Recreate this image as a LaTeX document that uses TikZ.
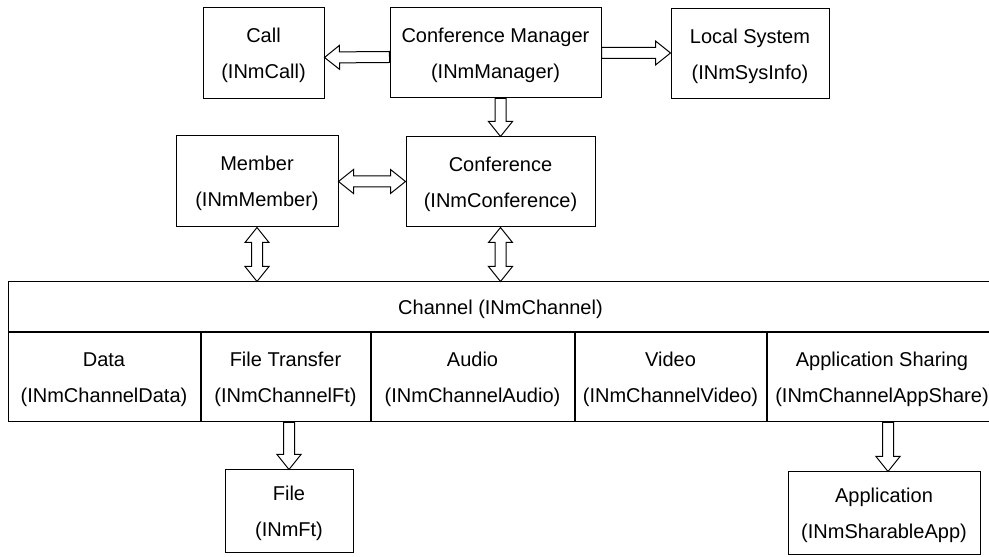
\documentclass[tikz,border=0pt]{standalone}
\usepackage{fontspec}
\setmainfont{Liberation Sans}
\usetikzlibrary{positioning,calc}

\tikzset{along/.style={shift={(\p1)}, rotate=\n1}}
% hollow block arrow, head at the second point
\newcommand{\singlehollow}[2]{%
  \draw[hollow] let \p1=(#1), \p2=(#2), \n1={atan2(\y2-\y1,\x2-\x1)}, \n2={veclen(\x2-\x1,\y2-\y1)} in
    ([along]0,5.5) -- ([along]\n2-15,5.5) -- ([along]\n2-15,12) -- ([along]\n2,0)
    -- ([along]\n2-15,-12) -- ([along]\n2-15,-5.5) -- ([along]0,-5.5) -- cycle;}
% hollow block arrow, heads at both points
\newcommand{\doublehollow}[2]{%
  \draw[hollow] let \p1=(#1), \p2=(#2), \n1={atan2(\y2-\y1,\x2-\x1)}, \n2={veclen(\x2-\x1,\y2-\y1)} in
    ([along]15,5.5) -- ([along]\n2-15,5.5) -- ([along]\n2-15,12) -- ([along]\n2,0)
    -- ([along]\n2-15,-12) -- ([along]\n2-15,-5.5) -- ([along]15,-5.5) -- ([along]15,-12)
    -- ([along]0,0) -- ([along]15,12) -- cycle;}

\begin{document}
\begin{tikzpicture}[x=1pt, y=1pt,
  box/.style={draw, rectangle, line width=1pt, align=center, inner sep=0pt, text depth=0pt, font=\fontsize{20}{36}\selectfont},
  cell/.style={box, minimum height=89pt},
  hollow/.style={draw, line width=1pt, fill=white, line join=miter}]
\useasboundingbox (0,0) rectangle (989,557);

\node[box, minimum width=121pt, minimum height=91pt] (call) at (263.5,503.5) {Call\\(INmCall)};
\node[box, minimum width=211pt, minimum height=90pt] (mgr) at (495.5,504) {Conference Manager\\(INmManager)};
\node[box, minimum width=158pt, minimum height=90pt] (local) at (750,503) {Local System\\(INmSysInfo)};
\node[box, minimum width=162pt, minimum height=91pt] (member) at (257,375.5) {Member\\(INmMember)};
\node[box, minimum width=189pt, minimum height=90pt] (conf) at (500.5,375) {Conference\\(INmConference)};

\node[box, minimum width=985pt, minimum height=50pt] (chan) at (500.5,250) {Channel (INmChannel)};
\node[cell, minimum width=192pt, anchor=north west] (data) at (chan.south west) {Data\\(INmChannelData)};
\node[cell, minimum width=169pt, right=0pt of data] (ft) {File Transfer\\(INmChannelFt)};
\node[cell, minimum width=203pt, right=0pt of ft] (audio) {Audio\\(INmChannelAudio)};
\node[cell, minimum width=191pt, right=0pt of audio] (video) {Video\\(INmChannelVideo)};
\node[cell, minimum width=230pt, right=0pt of video] (appshare) {Application Sharing\\(INmChannelAppShare)};

\node[box, minimum width=128pt, minimum height=83pt] (file) at (289,45.5) {File\\(INmFt)};
\node[box, minimum width=192pt, minimum height=83pt] (app) at (884,43.5) {Application\\(INmSharableApp)};
\coordinate (apptop) at ([xshift=4pt]app.north);

\singlehollow{[yshift=-4pt]mgr.west}{[yshift=-4pt]call.east}
\singlehollow{mgr.east}{mgr.east -| local.west}
\singlehollow{conf.north |- mgr.south}{conf.north}
\doublehollow{member.east}{member.east -| conf.west}
\doublehollow{member.south}{member.south |- chan.north}
\doublehollow{conf.south}{conf.south |- chan.north}
\singlehollow{file.north |- ft.south}{file.north}
\singlehollow{apptop |- appshare.south}{apptop}
\end{tikzpicture}
\end{document}
